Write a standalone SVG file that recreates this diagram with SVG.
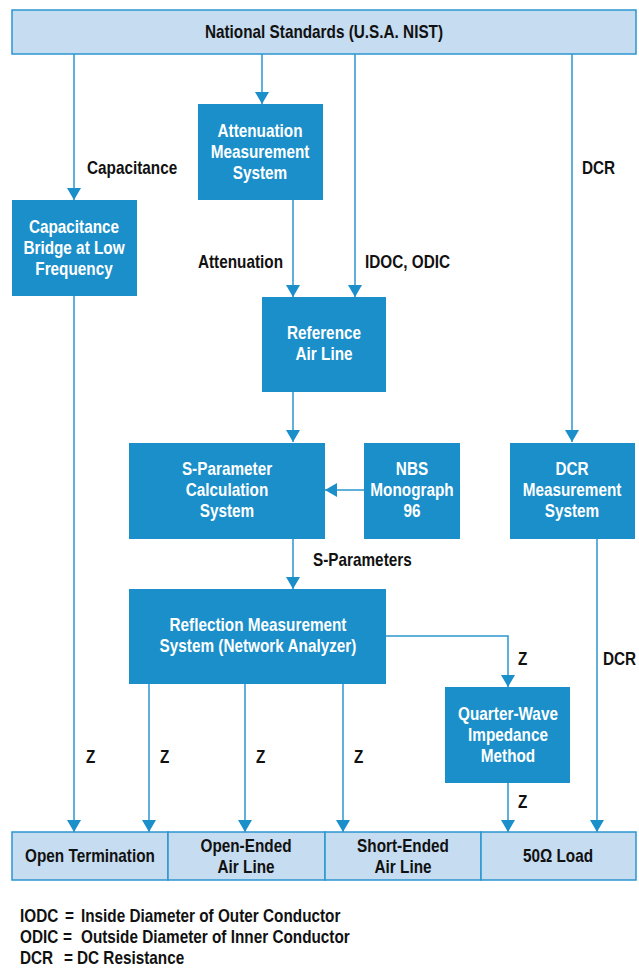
<svg xmlns="http://www.w3.org/2000/svg" width="639" height="969" viewBox="0 0 639 969">
<defs>
<style>
.box{fill:#1a8fca}
.bar{fill:#c6dcf0;stroke:#2b96d0;stroke-width:1.5}
text{font-family:'Liberation Sans',Arial,sans-serif;font-weight:bold;font-size:17.5px}
.wt{fill:#ffffff;text-anchor:middle}
.bt{fill:#111111;text-anchor:middle}
.lb{fill:#111111}
.ln{fill:none;stroke:#2b96d0;stroke-width:1.5}
</style>
<marker id="ah" viewBox="0 0 12 14" refX="12" refY="7" markerWidth="12" markerHeight="14" markerUnits="userSpaceOnUse" orient="auto">
<path d="M0,0 L12,7 L0,14 z" fill="#1a8fca"/>
</marker>
</defs>
<rect width="639" height="969" fill="#ffffff"/>

<g id="connectors">
<path class="ln" d="M74,54 V200" marker-end="url(#ah)"/>
<path class="ln" d="M262,54 V104" marker-end="url(#ah)"/>
<path class="ln" d="M355,54 V297" marker-end="url(#ah)"/>
<path class="ln" d="M572,54 V442" marker-end="url(#ah)"/>
<path class="ln" d="M293,200 V297" marker-end="url(#ah)"/>
<path class="ln" d="M293,392 V442" marker-end="url(#ah)"/>
<path class="ln" d="M364,490 H325" marker-end="url(#ah)"/>
<path class="ln" d="M293,539 V589" marker-end="url(#ah)"/>
<path class="ln" d="M386,636 H508 V687" marker-end="url(#ah)"/>
<path class="ln" d="M508,783 V832" marker-end="url(#ah)"/>
<path class="ln" d="M597,539 V832" marker-end="url(#ah)"/>
<path class="ln" d="M74,296 V832" marker-end="url(#ah)"/>
<path class="ln" d="M149,684 V832" marker-end="url(#ah)"/>
<path class="ln" d="M245,684 V832" marker-end="url(#ah)"/>
<path class="ln" d="M343,684 V832" marker-end="url(#ah)"/>
<text class="lb" transform="translate(87,174) scale(.875,1)">Capacitance</text>
<text class="lb" transform="translate(582,174) scale(.875,1)">DCR</text>
<text class="lb" transform="translate(283,268) scale(.875,1)" text-anchor="end">Attenuation</text>
<text class="lb" transform="translate(365,268) scale(.875,1)">IDOC, ODIC</text>
<text class="lb" transform="translate(313,566) scale(.875,1)">S-Parameters</text>
<text class="lb" transform="translate(518,665) scale(.875,1)">Z</text>
<text class="lb" transform="translate(603,665) scale(.875,1)">DCR</text>
<text class="lb" transform="translate(518,808) scale(.875,1)">Z</text>
<text class="lb" transform="translate(86,763) scale(.875,1)">Z</text>
<text class="lb" transform="translate(160,763) scale(.875,1)">Z</text>
<text class="lb" transform="translate(256,763) scale(.875,1)">Z</text>
<text class="lb" transform="translate(354,763) scale(.875,1)">Z</text>
</g>

<g id="nist">
<rect class="bar" x="12" y="10" width="624" height="44"/>
<text class="bt" transform="translate(324,38) scale(.875,1)">National Standards (U.S.A. NIST)</text>
</g>

<g id="attenuation">
<rect class="box" x="198" y="104" width="125" height="96"/>
<text class="wt" transform="translate(260,137) scale(.875,1)">Attenuation</text>
<text class="wt" transform="translate(260,158) scale(.875,1)">Measurement</text>
<text class="wt" transform="translate(260,179) scale(.875,1)">System</text>
</g>

<g id="capacitance">
<rect class="box" x="12" y="200" width="125" height="96"/>
<text class="wt" transform="translate(74,233) scale(.875,1)">Capacitance</text>
<text class="wt" transform="translate(74,254) scale(.875,1)">Bridge at Low</text>
<text class="wt" transform="translate(74,275) scale(.875,1)">Frequency</text>
</g>

<g id="refairline">
<rect class="box" x="262" y="297" width="124" height="95"/>
<text class="wt" transform="translate(324,339) scale(.875,1)">Reference</text>
<text class="wt" transform="translate(324,360) scale(.875,1)">Air Line</text>
</g>

<g id="sparam">
<rect class="box" x="129" y="443" width="196" height="96"/>
<text class="wt" transform="translate(227,475) scale(.875,1)">S-Parameter</text>
<text class="wt" transform="translate(227,496) scale(.875,1)">Calculation</text>
<text class="wt" transform="translate(227,517) scale(.875,1)">System</text>
</g>

<g id="nbs">
<rect class="box" x="364" y="443" width="96" height="96"/>
<text class="wt" transform="translate(412,475) scale(.875,1)">NBS</text>
<text class="wt" transform="translate(412,496) scale(.875,1)">Monograph</text>
<text class="wt" transform="translate(412,517) scale(.875,1)">96</text>
</g>

<g id="dcrmeas">
<rect class="box" x="510" y="443" width="125" height="96"/>
<text class="wt" transform="translate(572,475) scale(.875,1)">DCR</text>
<text class="wt" transform="translate(572,496) scale(.875,1)">Measurement</text>
<text class="wt" transform="translate(572,517) scale(.875,1)">System</text>
</g>

<g id="reflection">
<rect class="box" x="129" y="589" width="257" height="95"/>
<text class="wt" transform="translate(258,631) scale(.875,1)">Reflection Measurement</text>
<text class="wt" transform="translate(258,652) scale(.875,1)">System (Network Analyzer)</text>
</g>

<g id="quarterwave">
<rect class="box" x="445" y="687" width="125" height="96"/>
<text class="wt" transform="translate(508,720) scale(.875,1)">Quarter-Wave</text>
<text class="wt" transform="translate(508,741) scale(.875,1)">Impedance</text>
<text class="wt" transform="translate(508,762) scale(.875,1)">Method</text>
</g>

<g id="terminations">
<rect class="bar" x="12" y="832" width="156" height="48"/>
<rect class="bar" x="168" y="832" width="157" height="48"/>
<rect class="bar" x="325" y="832" width="156" height="48"/>
<rect class="bar" x="481" y="832" width="155" height="48"/>
<text class="bt" transform="translate(90,862) scale(.875,1)">Open Termination</text>
<text class="bt" transform="translate(246,852) scale(.875,1)">Open-Ended</text>
<text class="bt" transform="translate(246,873) scale(.875,1)">Air Line</text>
<text class="bt" transform="translate(403,852) scale(.875,1)">Short-Ended</text>
<text class="bt" transform="translate(403,873) scale(.875,1)">Air Line</text>
<text class="bt" transform="translate(558,862) scale(.875,1)">50Ω Load</text>
</g>

<g id="legend">
<text class="lb" transform="translate(20,922) scale(.875,1)">IODC</text>
<text class="lb" transform="translate(65,922) scale(.875,1)">=</text>
<text class="lb" transform="translate(81,922) scale(.875,1)">Inside Diameter of Outer Conductor</text>
<text class="lb" transform="translate(20,943) scale(.875,1)">ODIC</text>
<text class="lb" transform="translate(63,943) scale(.875,1)">=</text>
<text class="lb" transform="translate(81,943) scale(.875,1)">Outside Diameter of Inner Conductor</text>
<text class="lb" transform="translate(20,964) scale(.875,1)">DCR</text>
<text class="lb" transform="translate(64,964) scale(.875,1)">=</text>
<text class="lb" transform="translate(77,964) scale(.875,1)">DC Resistance</text>
</g>
</svg>
